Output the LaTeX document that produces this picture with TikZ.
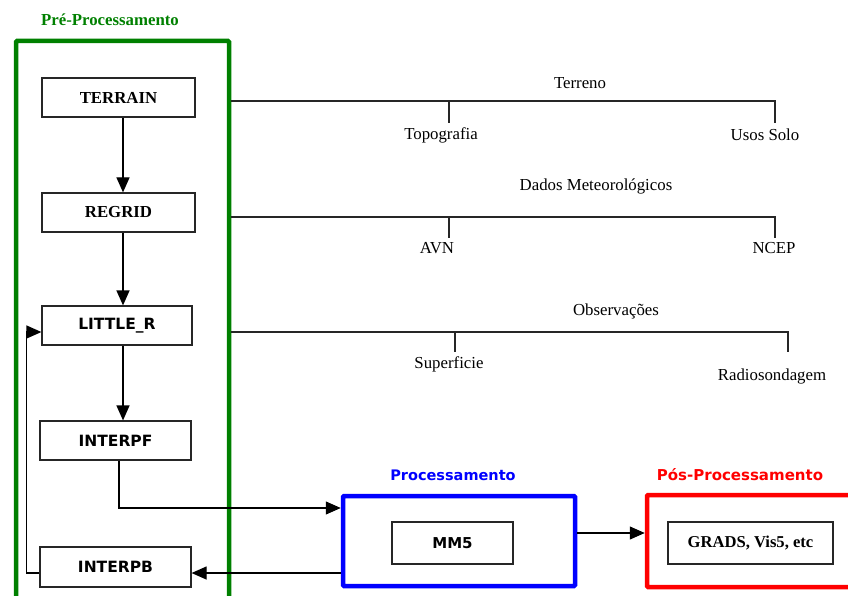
\documentclass[tikz,border=0pt]{standalone}
\usepackage{fontspec}
\setmainfont{Liberation Serif}
\newfontfamily\dvs{DejaVu Sans}
\usetikzlibrary{arrows.meta,calc}
\definecolor{pregreen}{RGB}{0,128,0}
\definecolor{procblue}{RGB}{0,0,255}
\definecolor{posred}{RGB}{255,0,0}
\begin{document}
\begin{tikzpicture}[x=1pt,y=-1pt,
  frame/.style={draw=#1,line width=4.5pt,rounded corners=1pt,inner sep=0pt},
  boxs/.style={draw=black!85,line width=1.2pt,inner sep=0pt,minimum height=39pt},
  serifb/.style={font=\fontsize{16.8}{18}\selectfont\bfseries},
  sansb/.style={font=\dvs\fontsize{15.5}{17}\selectfont\bfseries},
  lbl/.style={font=\fontsize{16.8}{18}\selectfont,inner sep=0pt},
  ttl/.style={inner sep=0pt},
  arr/.style={line width=1.2pt,-{Triangle[length=15pt,width=13pt]}},
  tree/.style={line width=1.2pt,draw=black!85}]
\useasboundingbox (0,0) rectangle (848,596);
\clip (0,0) rectangle (848,596);
% frames
\node[frame=pregreen,minimum width=213pt,minimum height=564pt] (pre) at (122.5,323) {};
\node[frame=procblue,minimum width=232pt,minimum height=90pt] (proc) at (459,541) {};
\node[frame=posred,minimum width=210pt,minimum height=92pt] (post) at (752,541) {};
% titles
\node[ttl,font=\fontsize{16.8}{18}\selectfont\bfseries,text=pregreen] (tpre) at (110,20) {Pré-Processamento};
\node[ttl,font=\dvs\fontsize{14.5}{17}\selectfont\bfseries,text=procblue] (tproc) at (453,475) {Processamento};
\node[ttl,font=\dvs\fontsize{15}{17}\selectfont\bfseries,text=posred] (tpost) at (740,475) {Pós-Processamento};
% inner boxes
\node[boxs,serifb,minimum width=153pt] (terrain) at (118.5,97.5) {TERRAIN};
\node[boxs,serifb,minimum width=153pt] (regrid) at (118.5,212.5) {REGRID};
\node[boxs,sansb,minimum width=150pt] (little) at (117,325.5) {LITTLE\_R};
\node[boxs,sansb,minimum width=151pt] (interpf) at (115.5,440.5) {INTERPF};
\node[boxs,sansb,minimum width=151pt,minimum height=40pt] (interpb) at (115.5,567) {INTERPB};
\node[boxs,font=\dvs\fontsize{15}{17}\selectfont\bfseries,minimum width=121pt,minimum height=42pt] (mm5) at (452.5,543) {MM5};
\node[boxs,font=\fontsize{16.6}{18}\selectfont\bfseries,minimum width=165pt,minimum height=42pt] (grads) at (750.5,543) {GRADS, Vis5, etc};
% vertical arrows
\draw[arr] ([xshift=4.5pt]terrain.south) -- ([xshift=4.5pt]regrid.north);
\draw[arr] ([xshift=4.5pt]regrid.south) -- ([xshift=6pt]little.north);
\draw[arr] ([xshift=6pt]little.south) -- ([xshift=7.5pt]interpf.north);
% loop back
\draw[arr] ([yshift=-6pt]interpb.west) -- ++(-13,0) |- ([yshift=-6.5pt]little.west);
% to processing and back
\draw[arr] ([xshift=3.5pt]interpf.south) |- ([yshift=33pt]proc.west);
\draw[arr] ([yshift=-32pt]proc.west) -- ([yshift=-6pt]interpb.east);
\draw[arr] ([yshift=8pt]proc.east) -- ([yshift=8pt]post.west);
% tree: Terreno
\coordinate (ta) at (449,101); \coordinate (tb) at (775,101);
\draw[tree] (pre.east |- ta) -- (tb) -- (775,123);
\draw[tree] (ta) -- (449,123);
\node[lbl] (terreno) at (580,83) {Terreno};
\node[lbl] (topo) at (441,135) {Topografia};
\node[lbl] (usos) at (765,135) {Usos Solo};
% tree: Dados
\coordinate (da) at (449,217); \coordinate (db) at (775,217);
\draw[tree] (pre.east |- da) -- (db) -- (775,238);
\draw[tree] (da) -- (449,238);
\node[lbl] (dados) at (596,186) {Dados Meteorológicos};
\node[lbl] (avn) at (437,248) {AVN};
\node[lbl] (ncep) at (774,248) {NCEP};
% tree: Observacoes
\coordinate (oa) at (455,332); \coordinate (ob) at (788,332);
\draw[tree] (pre.east |- oa) -- (ob) -- (788,352);
\draw[tree] (oa) -- (455,352);
\node[lbl] (obs) at (616,311) {Observações};
\node[lbl] (sup) at (449,364) {Superficie};
\node[lbl] (radio) at (772,376) {Radiosondagem};
\end{tikzpicture}
\end{document}
